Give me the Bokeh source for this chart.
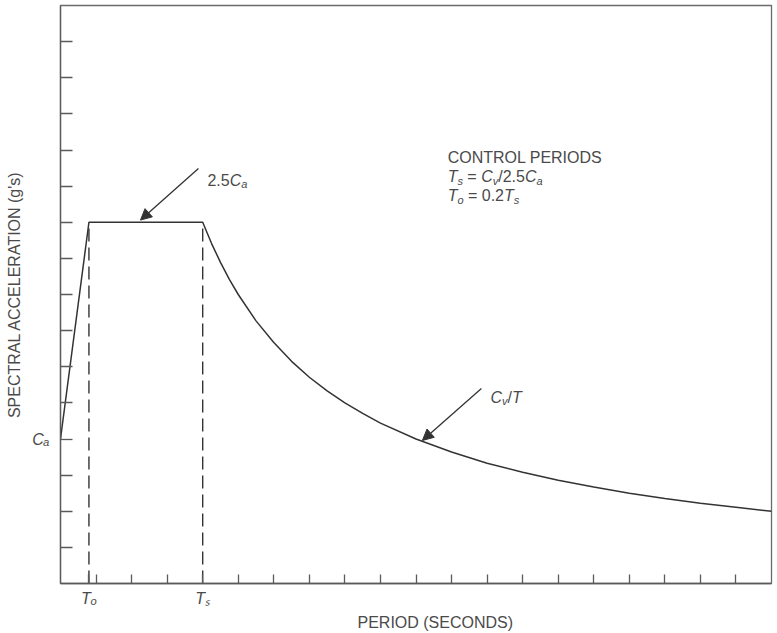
import math
from bokeh.plotting import figure
from bokeh.models import Range1d, FixedTicker, Label, Arrow, NormalHead, Title
from bokeh.embed import file_html
from bokeh.resources import INLINE

# ---------------- data (in schematic units) ----------------
CA = 4.0            # C_a level on the acceleration axis
PLATEAU = 10.0      # 2.5 C_a
TO = 0.8            # T_o = 0.2 T_s
TS = 4.0            # T_s
X_MAX = 20          # right end of period axis
Y_MAX = 16          # top of acceleration axis

x_minor_ticks = [1, 2, 3, 5, 6, 7, 8, 9, 10, 11, 12, 13, 14, 15, 16, 17, 18, 19]
y_minor_ticks = [1, 2, 3, 5, 6, 7, 8, 9, 10, 11, 12, 13, 14, 15]
x_labels = {TO: "T\u2092", TS: "T\u209b"}
y_labels = {CA: "C\u2090"}
x_title = "PERIOD (SECONDS)"
y_title = "SPECTRAL ACCELERATION (g's)"

period = [0.0, 0.8, 4.0, 4.25, 4.5, 4.75, 5.0, 5.5, 6.0, 6.5, 7.0, 7.5, 8.0, 8.5, 9.0,
          10.0, 11.0, 12.0, 13.0, 14.0, 15.0, 16.0, 17.0, 18.0, 19.0, 20.0]
spectral = [4.0, 10.0, 10.0, 9.41, 8.89, 8.42, 8.0, 7.27, 6.67, 6.15, 5.71, 5.33, 5.0, 4.71, 4.44,
            4.0, 3.64, 3.33, 3.08, 2.86, 2.67, 2.5, 2.35, 2.22, 2.11, 2.0]

dash_x = [TO, TS]
dash_top = [PLATEAU, PLATEAU]

arrow_plateau = dict(tail=(3.88, 11.49), tip=(2.25, 10.06))
arrow_curve = dict(tail=(11.84, 5.40), tip=(10.18, 3.96))
note_anchor = (10.89, 11.79)

# ---------------- styling ----------------
FONT = "Liberation Sans"
TXT = "#4a4a4a"
LINE = "#333333"
AX = "#5a5a5a"
SIZE = 16
SUB = 11

W = 777
H = 633

p = figure(width=W, height=H, output_backend="svg", toolbar_location=None,
           x_range=Range1d(0, X_MAX), y_range=Range1d(0, Y_MAX),
           min_border_left=60, min_border_right=6, min_border_top=5, min_border_bottom=50)
p.background_fill_color = "white"
p.border_fill_color = "white"
p.outline_line_color = "#6a6a6a"
p.outline_line_width = 1.3
p.grid.visible = False

for ax, major, minor, labels, tin in ((p.xaxis[0], [TO, TS], x_minor_ticks, x_labels, 9),
                                      (p.yaxis[0], [CA], y_minor_ticks, y_labels, 12)):
    ax.ticker = FixedTicker(ticks=major, minor_ticks=minor)
    ax.major_label_overrides = labels
    ax.major_tick_in = tin
    ax.major_tick_out = 0
    ax.minor_tick_in = tin
    ax.minor_tick_out = 0
    ax.major_tick_line_color = AX
    ax.minor_tick_line_color = AX
    ax.major_tick_line_width = 1.3
    ax.minor_tick_line_width = 1.3
    ax.axis_line_color = AX
    ax.axis_line_width = 1.3
    ax.major_label_text_font = FONT
    ax.major_label_text_font_size = f"{SIZE}px"
    ax.major_label_text_font_style = "italic"
    ax.major_label_text_color = TXT

p.xaxis[0].major_label_standoff = 6
p.yaxis[0].major_label_standoff = 11

p.yaxis[0].axis_label = y_title
p.yaxis[0].axis_label_text_font = FONT
p.yaxis[0].axis_label_text_font_size = f"{SIZE}px"
p.yaxis[0].axis_label_text_font_style = "normal"
p.yaxis[0].axis_label_text_color = TXT
p.yaxis[0].axis_label_standoff = 6

p.add_layout(Title(text=x_title, align="left", offset=297, text_font=FONT,
                   text_font_size=f"{SIZE}px", text_font_style="normal",
                   text_color=TXT, standoff=4), "below")

# response spectrum
p.line(period, spectral, line_color=LINE, line_width=1.5)

# dashed control-period lines
p.segment(x0=dash_x, y0=[0, 0], x1=dash_x, y1=dash_top, line_color=LINE,
          line_width=1.4, line_dash="13 6")

# arrows
for a in (arrow_plateau, arrow_curve):
    p.add_layout(Arrow(end=NormalHead(size=11, fill_color=LINE, line_color=LINE),
                       x_start=a["tail"][0], y_start=a["tail"][1],
                       x_end=a["tip"][0], y_end=a["tip"][1],
                       line_color=LINE, line_width=1.3))

# ---------------- rich text helper (inside the frame) ----------------
NB = "\u00a0"
W_EM = {'T': 0.611, 'C': 0.722, 's': 0.5, 'v': 0.5, 'a': 0.556, 'o': 0.556, '=': 0.584,
        NB: 0.278, ' ': 0.278, '/': 0.278, '2': 0.556, '.': 0.278, '5': 0.556, '0': 0.556}


def tw(s, fs):
    return sum(W_EM.get(ch, 0.65) for ch in s) * fs


def rich(x, y, frags, dx=0.0, dy=0.0):
    pos = 0.0
    for s, st in frags:
        fs = SUB if st == "sub" else SIZE
        perp = -4 if st == "sub" else 0
        p.add_layout(Label(x=x, y=y, x_offset=dx + pos, y_offset=dy + perp, text=s,
                           text_font=FONT, text_font_size=f"{fs}px",
                           text_font_style="italic" if st in ("i", "sub") else "normal",
                           text_color=TXT, text_baseline="alphabetic", text_align="left"))
        pos += tw(s, fs)


# arrow captions
rich(*arrow_plateau["tail"], [("2.5", "n"), ("C", "i"), ("a", "sub")], dx=9, dy=-12)
rich(*arrow_curve["tail"], [("C", "i"), ("v", "sub"), ("/", "n"), ("T", "i")], dx=9, dy=-9)

# control periods note
rich(*note_anchor, [("CONTROL PERIODS", "n")])
rich(*note_anchor, [("T", "i"), ("s", "sub"), (NB + "=" + NB, "n"), ("C", "i"), ("v", "sub"),
                    ("/2.5", "n"), ("C", "i"), ("a", "sub")], dy=-19)
rich(*note_anchor, [("T", "i"), ("o", "sub"), (NB + "=" + NB + "0.2", "n"), ("T", "i"),
                    ("s", "sub")], dy=-38)

open("out.html", "w").write(file_html(p, INLINE))
